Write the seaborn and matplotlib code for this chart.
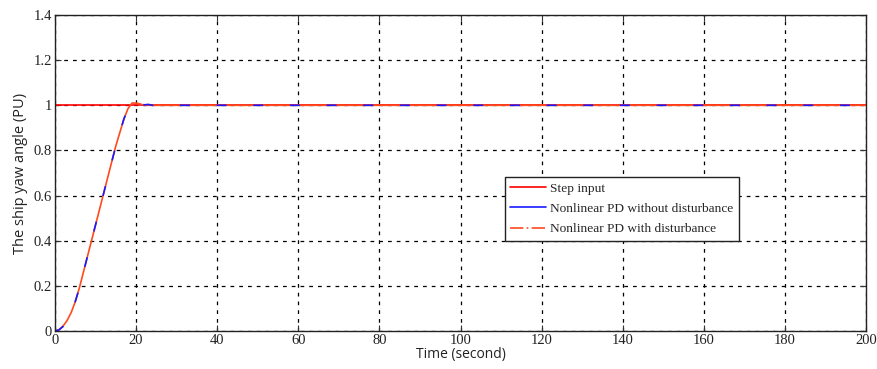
import numpy as np
import pandas as pd
import matplotlib
matplotlib.use("Agg")
import matplotlib.pyplot as plt
import seaborn as sns

# Data
step_t = [0, 0, 200]
step_y = [0, 1, 1]

resp_t = [0, 1, 2, 3, 4, 5, 6, 7, 8, 9, 10, 11, 12, 13, 14, 15, 16, 17, 18, 19, 20, 21, 22, 23, 24, 26, 30, 200]
nodist_y = [0, 0.005, 0.02, 0.045, 0.08, 0.13, 0.19, 0.26, 0.33, 0.40, 0.47, 0.54, 0.61, 0.68, 0.75, 0.82, 0.88, 0.94, 0.985, 1.012, 1.015, 1.008, 1.002, 1.004, 1.0, 1.0, 1.0, 1.0]
dist_y = [0, 0.006, 0.022, 0.047, 0.082, 0.13, 0.19, 0.26, 0.33, 0.40, 0.47, 0.54, 0.61, 0.68, 0.75, 0.82, 0.88, 0.94, 0.985, 1.01, 1.01, 1.006, 1.0, 1.0, 1.0, 1.0, 1.0, 1.0]

labels = ["Step input", "Nonlinear PD without disturbance", "Nonlinear PD with disturbance"]

sns.set_style("white")
plt.rcParams['font.family'] = ['Liberation Serif', 'DejaVu Serif']

fig = plt.figure(figsize=(8.77, 3.69), dpi=100)
ax = fig.add_axes([0.0627, 0.103, 0.9248, 0.8563])

df_step = pd.DataFrame({"t": step_t, "y": step_y})
df_nd = pd.DataFrame({"t": resp_t, "y": nodist_y})
df_d = pd.DataFrame({"t": resp_t, "y": dist_y})

sns.lineplot(data=df_step, x="t", y="y", ax=ax, color="#ff0000", lw=1.2,
             label=labels[0], sort=False, estimator=None)
sns.lineplot(data=df_d, x="t", y="y", ax=ax, color="#ff4a1c", lw=1.2,
             label=labels[2], sort=False, estimator=None)
sns.lineplot(data=df_nd, x="t", y="y", ax=ax, color="#1a1aff", lw=1.2,
             label=labels[1], sort=False, estimator=None, dashes=False)
ax.lines[2].set_dashes([6, 16])

ax.set_xlim(0, 200)
ax.set_ylim(0, 1.4)
ax.set_xticks(np.arange(0, 201, 20))
ax.set_yticks(np.round(np.arange(0, 1.41, 0.2), 1))
ax.set_yticklabels(["0", "0.2", "0.4", "0.6", "0.8", "1", "1.2", "1.4"])
ax.tick_params(direction="in", length=4, width=0.8, labelsize=10.5, top=True, right=True,
               bottom=True, left=True, pad=2, colors="#333333")
for lbl in ax.get_xticklabels() + ax.get_yticklabels():
    lbl.set_color("#222222")
ax.grid(True, color="black", linestyle=(0, (3, 4)), linewidth=0.9)
for s in ax.spines.values():
    s.set_color("#222222")
    s.set_linewidth(1.0)

ax.set_xlabel("Time (second)", fontsize=10, family=["Open Sans", "DejaVu Sans"], labelpad=0, color="#222222")
ax.set_ylabel("The ship yaw angle (PU)", fontsize=10.5, family=["Open Sans", "DejaVu Sans"], labelpad=4, color="#222222")

from matplotlib.lines import Line2D
handles = [Line2D([], [], color="#ff0000", lw=1.2),
           Line2D([], [], color="#1a1aff", lw=1.2),
           Line2D([], [], color="#ff4a1c", lw=1.2, dashes=[8, 2, 1, 2])]
ax.legend(handles, labels, loc="upper left", bbox_to_anchor=(0.555, 0.487),
          fontsize=9.6, frameon=True, fancybox=False, edgecolor="#222222",
          framealpha=1, borderpad=0.4, labelspacing=0.6, handlelength=2.7,
          handletextpad=0.3, borderaxespad=0)

fig.savefig("out.png", dpi=100)
